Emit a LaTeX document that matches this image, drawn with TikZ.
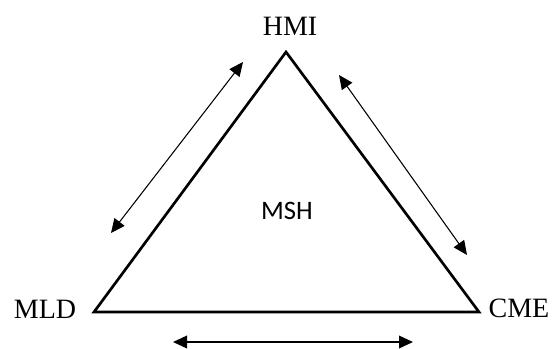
\documentclass[tikz,border=0pt]{standalone}
\usepackage{fontspec}
\setmainfont{Liberation Serif}
\newfontfamily\calibrifont{Carlito}
\usetikzlibrary{arrows.meta}

\tikzset{
    corner/.style={font=\fontsize{21}{24}\selectfont, inner sep=0pt},
    twoway/.style={{Triangle[length=10.5pt,width=9.5pt]}-{Triangle[length=10.5pt,width=9.5pt]}, line width=0.8pt},
}

\begin{document}
\begin{tikzpicture}[x=0.75pt, y=-0.75pt]
    \useasboundingbox (0,0) rectangle (552,349);
    % triangle
    \coordinate (top) at (286,52);
    \coordinate (left) at (94,312);
    \coordinate (right) at (479,312);
    \draw[line width=2pt, line join=miter] (top) -- (left) -- (right) -- cycle;

    \node[corner] (hmi) at (290,26) {HMI};
    \node[corner] (mld) at (45,309) {MLD};
    \node[corner] (cme) at (519,308) {CME};
    \node[font=\calibrifont\fontsize{20}{24}\selectfont, inner sep=0pt] (msh) at (287,211) {MSH};

    % double arrows along the sides
    \coordinate (a1) at (243,62);
    \coordinate (a2) at (111,233);
    \coordinate (b1) at (339,75);
    \coordinate (b2) at (467,255);
    \coordinate (c1) at (173,342);
    \coordinate (c2) at (413,342);
    \draw[twoway] (a2) -- (a1);
    \draw[twoway] (b1) -- (b2);
    \draw[twoway, line width=1.1pt] (c1) -- (c2);
\end{tikzpicture}
\end{document}
